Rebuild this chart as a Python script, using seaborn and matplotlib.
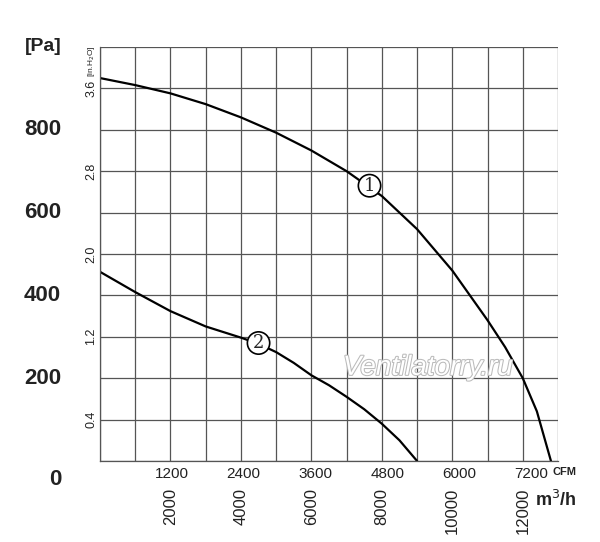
import matplotlib
matplotlib.use("Agg")
import matplotlib.pyplot as plt
import matplotlib.patheffects as pe
import seaborn as sns
import pandas as pd

flow1 = [0, 1000, 2000, 3000, 4000, 5000, 6000, 7000, 8000, 9000, 10000, 10500, 11000, 11500, 12000, 12400, 12800]
pres1 = [925, 908, 888, 862, 830, 793, 750, 700, 640, 560, 460, 400, 340, 275, 200, 120, 0]
flow2 = [0, 1000, 2000, 3000, 4000, 4500, 5000, 5500, 6000, 6500, 7000, 7500, 8000, 8500, 9000]
pres2 = [457, 408, 362, 325, 298, 283, 263, 237, 207, 183, 155, 125, 90, 50, 0]
pa_ticks = [0, 200, 400, 600, 800]
inh2o_ticks = [0.4, 1.2, 2.0, 2.8, 3.6]
cfm_ticks = [1200, 2400, 3600, 4800, 6000, 7200]
m3h_ticks = [2000, 4000, 6000, 8000, 10000, 12000]

sns.set_style("white")
plt.rcParams['font.family'] = ['Liberation Sans', 'DejaVu Sans']

fig = plt.figure(figsize=(6, 5.42), dpi=100)
ax = fig.add_axes([100/600, 81/542, 458/600, 414/542])
df = pd.concat([pd.DataFrame({"q": flow1, "p": pres1, "c": "1"}),
                pd.DataFrame({"q": flow2, "p": pres2, "c": "2"})])
sns.lineplot(data=df, x="q", y="p", units="c", estimator=None, color="black", lw=1.6, ax=ax, sort=False)
ax.set_xlim(0, 13000)
ax.set_ylim(0, 1000)
ax.set_xticks(range(0, 13001, 1000))
ax.set_yticks(range(0, 1001, 100))
ax.set_xticklabels([]); ax.set_yticklabels([])
ax.tick_params(length=0)
ax.grid(True, color="#555555", lw=0.9)
for s in ax.spines.values():
    s.set_color("#555555"); s.set_linewidth(0.9)
ax.spines['top'].set_visible(False)
ax.spines['right'].set_visible(False)
ax.set_xlabel(""); ax.set_ylabel("")

for v in pa_ticks:
    ax.text(-1100, v - (45 if v == 0 else 0), str(v), ha="right", va="center", fontsize=16, fontweight="bold", color="#222222")
for v in inh2o_ticks:
    ax.text(-250, v / 0.4 * 100, f"{v}", rotation=90, ha="center", va="center", fontsize=9, color="#222222")
for v in cfm_ticks:
    ax.text(v * 1.699, -15, str(v), ha="center", va="top", fontsize=11, color="#222222")
for v in m3h_ticks:
    ax.text(v, -65, str(v), rotation=90, ha="center", va="top", fontsize=12, color="#222222")
ax.text(12850, -15, "CFM", ha="left", va="top", fontsize=8, fontweight="bold", color="#222222")
ax.text(12350, -70, "m$^3$/h", ha="left", va="top", fontsize=13, fontweight="bold", color="#222222")
ax.text(-1100, 1000, "[Pa]", ha="right", va="center", fontsize=14, fontweight="bold", color="#222222")
ax.text(-250, 1005, "[in.H$_2$O]", rotation=90, ha="center", va="top", fontsize=6, color="#222222")
circ = dict(boxstyle="circle,pad=0.12", fc="white", ec="black", lw=1.2)
ax.text(7650, 665, "1", ha="center", va="center", fontsize=13, family="DejaVu Serif", bbox=circ)
ax.text(4500, 285, "2", ha="center", va="center", fontsize=13, family="DejaVu Serif", bbox=circ)
ax.text(9300, 225, "Ventilatorry.ru", ha="center", va="center", fontsize=20, style="italic",
        color="white", path_effects=[pe.withStroke(linewidth=1.5, foreground="#bbbbbb")])
fig.savefig("out.png", dpi=100)
